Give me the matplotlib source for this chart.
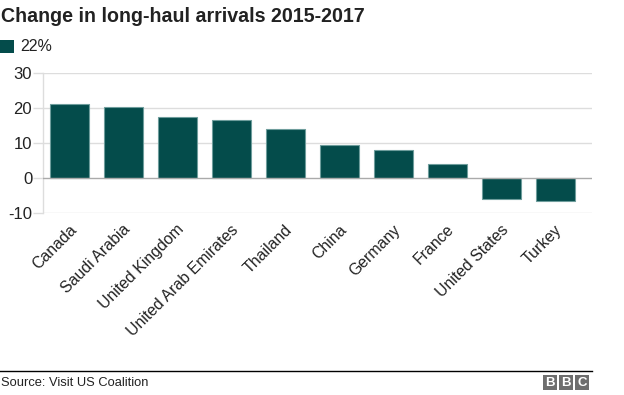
import matplotlib
matplotlib.use("Agg")
import matplotlib.pyplot as plt
import matplotlib.transforms as mtransforms
from matplotlib.patches import Rectangle

countries = ["Canada", "Saudi Arabia", "United Kingdom", "United Arab Emirates",
             "Thailand", "China", "Germany", "France", "United States", "Turkey"]
change = [21.1, 20.3, 17.4, 16.6, 14.0, 9.4, 8.0, 4.0, -5.9, -6.5]
yticks = [-10, 0, 10, 20, 30]
legend_label = "22%"

plt.rcParams["font.family"] = ["Liberation Sans", "DejaVu Sans"]

W, H = 624, 395
fig = plt.figure(figsize=(W / 100, H / 100), dpi=100)

def fx(px):
    return px / W

def fy(py):
    return 1 - py / H

bar_color = "#044c4b"
grid_color = "#dddddd"
text_color = "#222222"

# axes placed in pixel coordinates (top = 30, bottom = -10)
left, right, top, bottom = 43.3, 591.7, 73.3, 213.3
ax = fig.add_axes([fx(left), fy(bottom), fx(right - left), (bottom - top) / H])

x = range(len(countries))
ax.bar(x, change, width=0.72, color=bar_color, edgecolor="#6e9d9c",
       linewidth=0.8, zorder=3)

ax.set_xlim(-0.49, 9.67)
ax.set_ylim(-10, 30)
ax.set_yticks(yticks)
ax.set_yticklabels([str(v) for v in yticks], fontsize=12, color=text_color)
for v in yticks:
    ax.axhline(v, color="#aaaaaa" if v == 0 else grid_color, lw=1, zorder=1 if v else 4)

for s in ["top", "right", "bottom"]:
    ax.spines[s].set_visible(False)
ax.spines["left"].set_color(grid_color)
ax.spines["left"].set_linewidth(1)
ax.tick_params(axis="y", length=7.2, width=1, color=grid_color, pad=0.8)
ax.tick_params(axis="x", length=0, pad=6.3)

ax.set_xticks(list(x))
ax.set_xticklabels(countries, rotation=45, ha="right", va="top",
                   rotation_mode="anchor", fontsize=11.4, color=text_color)
offset = mtransforms.ScaledTranslation(-1 / 100, 0, fig.dpi_scale_trans)
for lbl in ax.get_xticklabels():
    lbl.set_transform(lbl.get_transform() + offset)

# title and legend
fig.text(fx(1), fy(22), "Change in long-haul arrivals 2015-2017", fontsize=14.1,
         fontweight="bold", color=text_color, va="baseline", ha="left")
fig.patches.append(Rectangle((fx(0), fy(53)), fx(14), 13 / H, transform=fig.transFigure,
                             facecolor=bar_color, edgecolor="none"))
fig.text(fx(20), fy(46.5), legend_label, fontsize=11.5, color=text_color,
         va="center", ha="left")

# footer
fig.add_artist(plt.Line2D([fx(0), fx(591.7)], [fy(371), fy(371)], color="black",
                          lw=1, transform=fig.transFigure))
fig.text(fx(1), fy(383), "Source: Visit US Coalition", fontsize=9.3, color=text_color,
         va="center", ha="left")
for i, letter in enumerate("BBC"):
    x0 = 543 + i * 16
    fig.patches.append(Rectangle((fx(x0), fy(390)), fx(14), 15 / H,
                                 transform=fig.transFigure, facecolor="#6e6e6e",
                                 edgecolor="none"))
    fig.text(fx(x0 + 7), fy(382.5), letter, fontsize=9.5, fontweight="bold",
             color="white", ha="center", va="center")

fig.savefig("out.png", dpi=100)
